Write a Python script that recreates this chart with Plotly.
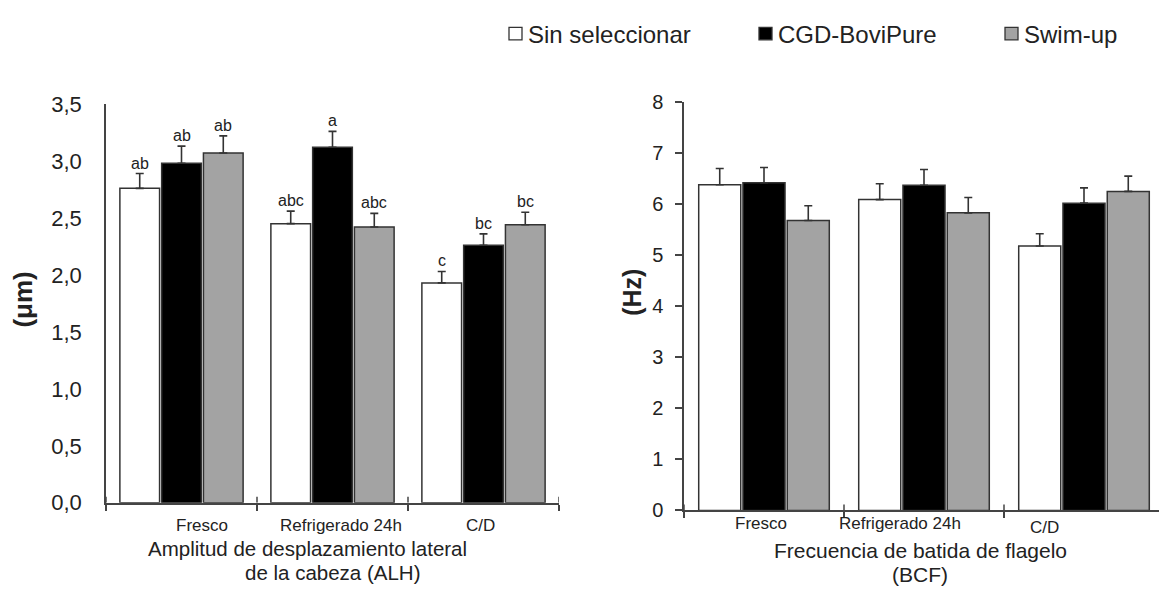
import plotly.graph_objects as go

# ---------------- data ----------------
categories = ["Fresco", "Refrigerado 24h", "C/D"]
series_names = ["Sin seleccionar", "CGD-BoviPure", "Swim-up"]

alh_sin = [2.76, 2.45, 1.93]
alh_cgd = [2.98, 3.12, 2.26]
alh_swim = [3.07, 2.42, 2.44]
alh_sin_err = [0.13, 0.11, 0.10]
alh_cgd_err = [0.15, 0.14, 0.10]
alh_swim_err = [0.15, 0.12, 0.11]
alh_letters_sin = ["ab", "abc", "c"]
alh_letters_cgd = ["ab", "a", "bc"]
alh_letters_swim = ["ab", "abc", "bc"]

bcf_sin = [6.38, 6.09, 5.18]
bcf_cgd = [6.42, 6.37, 6.02]
bcf_swim = [5.68, 5.83, 6.25]
bcf_sin_err = [0.32, 0.31, 0.24]
bcf_cgd_err = [0.30, 0.31, 0.30]
bcf_swim_err = [0.29, 0.30, 0.30]

y_left_ticks = [0, 0.5, 1, 1.5, 2, 2.5, 3, 3.5]
y_right_ticks = [0, 1, 2, 3, 4, 5, 6, 7, 8]

# ---------------- style ----------------
W, H = 1159, 603
FONT = "Liberation Sans, Arial, sans-serif"
TXT = "#222222"
EDGE = "#333333"
AX = "#444444"
colors = ["#ffffff", "#000000", "#a3a3a3"]
BARGAP = 0.17
BARGROUPGAP = 0.05


def px(x):
    return x / W


def py(y):
    return 1 - y / H


xpos = list(range(len(categories)))

fig = go.Figure()

left_vals = [alh_sin, alh_cgd, alh_swim]
left_errs = [alh_sin_err, alh_cgd_err, alh_swim_err]
left_letters = [alh_letters_sin, alh_letters_cgd, alh_letters_swim]
right_vals = [bcf_sin, bcf_cgd, bcf_swim]
right_errs = [bcf_sin_err, bcf_cgd_err, bcf_swim_err]

for j in range(3):
    fig.add_trace(go.Bar(
        x=xpos, y=left_vals[j], name=series_names[j],
        marker=dict(color=colors[j], line=dict(color=EDGE, width=1.5)),
        error_y=dict(type="data", symmetric=False, array=left_errs[j],
                     arrayminus=[0] * 3, color=EDGE, thickness=1.6, width=4),
        xaxis="x", yaxis="y", showlegend=False, offsetgroup=str(j),
    ))
for j in range(3):
    fig.add_trace(go.Bar(
        x=xpos, y=right_vals[j], name=series_names[j],
        marker=dict(color=colors[j], line=dict(color=EDGE, width=1.5)),
        error_y=dict(type="data", symmetric=False, array=right_errs[j],
                     arrayminus=[0] * 3, color=EDGE, thickness=1.6, width=4),
        xaxis="x2", yaxis="y2", showlegend=False, offsetgroup=str(j),
    ))

annotations = []
shapes = []

# significance letters (left chart)
slot = (1 - BARGAP) / 3
for j in range(3):
    for i in range(3):
        annotations.append(dict(
            x=i + (j - 1) * slot, y=left_vals[j][i] + left_errs[j][i],
            xref="x", yref="y", text=left_letters[j][i], showarrow=False,
            xanchor="center", yanchor="bottom", yshift=0,
            font=dict(family=FONT, size=16, color=TXT)))

# category labels
left_shift = [20, 8, -3]
right_shift = [-3, -24, -40]
right_yshift = [-13, -13, -17]
for i, c in enumerate(categories):
    annotations.append(dict(x=i, y=0, xref="x", yref="y domain", text=c, showarrow=False,
                            xshift=left_shift[i], yshift=-23, xanchor="center", yanchor="middle",
                            font=dict(family=FONT, size=17, color=TXT)))
    annotations.append(dict(x=i, y=0, xref="x2", yref="y2 domain", text=c, showarrow=False,
                            xshift=right_shift[i], yshift=right_yshift[i], xanchor="center",
                            yanchor="middle", font=dict(family=FONT, size=17, color=TXT)))

# cross ticks: upper halves
for b in [-0.5, 0.5, 1.5, 2.5]:
    shapes.append(dict(type="line", xref="x", yref="y", ysizemode="pixel", yanchor=0,
                       x0=b, x1=b, y0=0, y1=6, line=dict(color=AX, width=1.5)))
    shapes.append(dict(type="line", xref="x2", yref="y2", ysizemode="pixel", yanchor=0,
                       x0=b, x1=b, y0=0, y1=6, line=dict(color=AX, width=1.5)))


def paper_text(x, y, text, size, angle=0):
    return dict(x=px(x), y=py(y), xref="paper", yref="paper", showarrow=False,
                xanchor="center", yanchor="middle", textangle=angle, text=text,
                font=dict(family=FONT, size=size, color=TXT))


# axis titles
annotations += [
    paper_text(307, 560, "Amplitud de desplazamiento lateral", 20.5),
    paper_text(332, 585, "de la cabeza (ALH)", 20.5),
    paper_text(920, 562, "Frecuencia de batida de flagelo", 21),
    paper_text(920, 587, "(BCF)", 21),
    paper_text(23, 300, "<b>(μm)</b>", 26, -90),
    paper_text(632, 293, "<b>(Hz)</b>", 25, -90),
]

# manual legend
leg_sq_x = [509, 759, 1005]
for j in range(3):
    shapes.append(dict(type="rect", xref="paper", yref="paper",
                       x0=px(leg_sq_x[j]), x1=px(leg_sq_x[j] + 13), y0=py(29), y1=py(16),
                       fillcolor=colors[j], line=dict(color=EDGE, width=1.3)))
    annotations.append(dict(x=px(leg_sq_x[j] + 17), y=py(23), xref="paper", yref="paper",
                            xanchor="left", yanchor="middle", showarrow=False,
                            text=series_names[j], font=dict(family=FONT, size=24, color=TXT)))

fig.update_layout(
    width=W, height=H,
    margin=dict(l=0, r=0, t=0, b=0),
    paper_bgcolor="white", plot_bgcolor="white",
    barmode="group", bargap=BARGAP, bargroupgap=BARGROUPGAP,
    separators=",.",
    font=dict(family=FONT, color=TXT),
    xaxis=dict(domain=[px(106), px(559)], range=[-0.5, 2.5], tickmode="array",
               tickvals=[-0.5, 0.5, 1.5, 2.5], ticktext=["", "", "", ""],
               ticks="outside", ticklen=6, tickwidth=1.5, tickcolor=AX,
               showline=True, linecolor=AX, linewidth=1.5, showgrid=False,
               zeroline=False, anchor="y", fixedrange=True),
    yaxis=dict(domain=[py(512), py(96)], range=[0, 3.5], tickmode="array",
               tickvals=y_left_ticks, tickformat=".1f", ticks="",
               ticklabelstandoff=18,
               tickfont=dict(family=FONT, size=22, color=TXT),
               showline=True, linecolor=AX, linewidth=1.5, showgrid=False,
               zeroline=False, anchor="x"),
    xaxis2=dict(domain=[px(684), 1.0], range=[-0.5, (W - 684) / 160 - 0.5], tickmode="array",
                tickvals=[-0.5, 0.5, 1.5, 2.5], ticktext=["", "", "", ""],
                ticks="outside", ticklen=6, tickwidth=1.5, tickcolor=AX,
                showline=True, linecolor=AX, linewidth=1.5, showgrid=False,
                zeroline=False, anchor="y2"),
    yaxis2=dict(domain=[py(520), py(94)], range=[0, 8], tickmode="array",
                tickvals=y_right_ticks, ticks="outside", ticklen=7, tickwidth=1.5,
                tickcolor=AX, ticklabelstandoff=8,
                tickfont=dict(family=FONT, size=20, color=TXT),
                showline=True, linecolor=AX, linewidth=1.5, showgrid=False,
                zeroline=False, anchor="x2"),
    annotations=annotations,
    shapes=shapes,
)

fig.write_html("out.html")
